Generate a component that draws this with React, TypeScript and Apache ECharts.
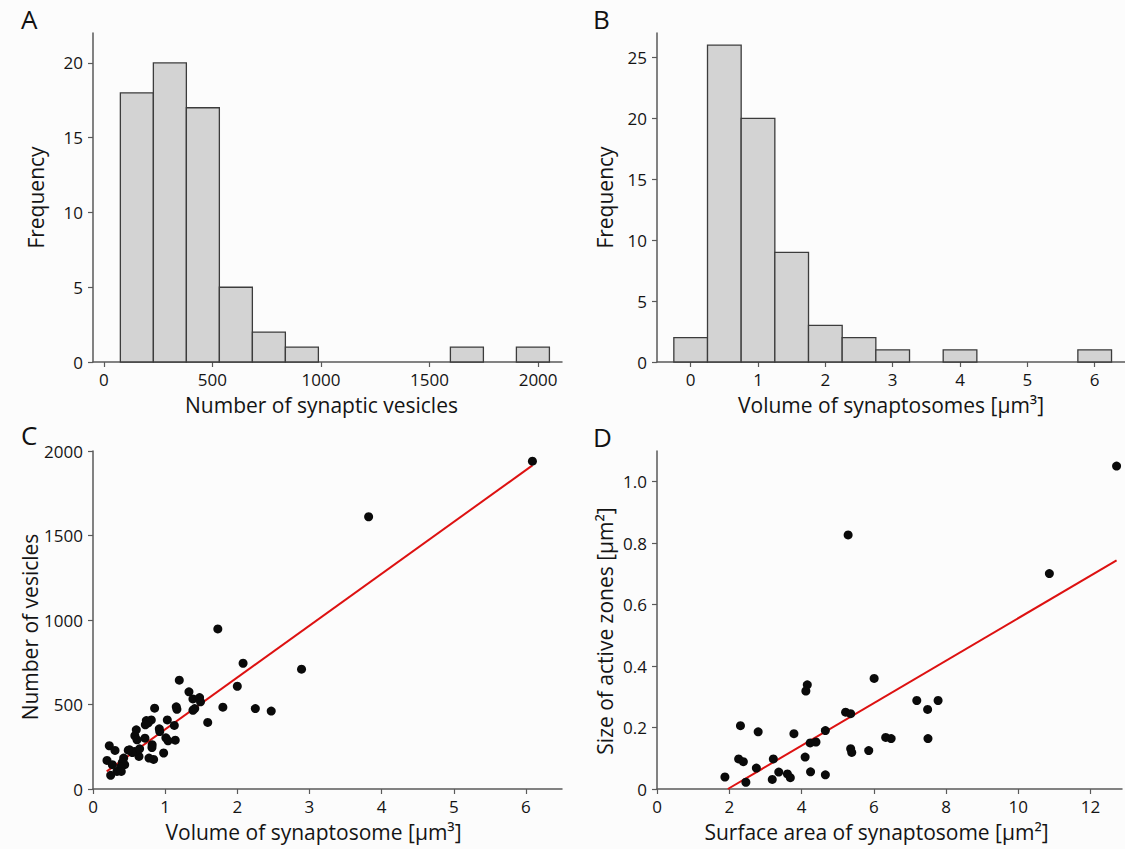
import React, { useEffect, useRef } from 'react';
import * as echarts from 'echarts';

// Panel A: histogram of number of synaptic vesicles
const vesicleBinStarts = [76, 228, 380, 532, 684, 836, 1596, 1900];
const vesicleBinWidth = 152;
const vesicleCounts = [18, 20, 17, 5, 2, 1, 1, 1];
const vesicleTicks = [0, 500, 1000, 1500, 2000];

// Panel B: histogram of synaptosome volume
const volumeBinStarts = [-0.25, 0.25, 0.75, 1.25, 1.75, 2.25, 2.75, 3.75, 5.75];
const volumeBinWidth = 0.5;
const volumeCounts = [2, 26, 20, 9, 3, 2, 1, 1, 1];
const volumeTicks = [0, 1, 2, 3, 4, 5, 6];

// Panel C: volume of synaptosome vs number of vesicles
const volC = [
  1.73, 2.08, 2.0, 2.25, 2.47, 2.89, 1.8, 1.59, 1.196, 1.33, 1.385, 1.477, 1.49, 1.385, 1.41,
  1.154, 1.163, 1.127, 1.03, 1.01, 1.14, 1.04, 0.919, 0.925, 0.979, 0.854, 0.808, 0.739, 0.766,
  0.725, 0.6, 0.58, 0.61, 0.72, 0.82, 0.817, 0.84, 0.776, 0.637, 0.577, 0.508, 0.545, 0.646,
  0.489, 0.425, 0.406, 0.439, 0.383, 0.332, 0.392, 0.245, 0.226, 0.305, 0.194, 0.268, 3.82, 6.09,
];
const vesC = [
  947, 744, 608, 476, 461, 709, 484, 394, 644, 575, 533, 541, 516, 466, 476,
  486, 472, 376, 409, 303, 289, 285, 356, 340, 213, 478, 409, 405, 392,
  380, 350, 315, 291, 301, 262, 245, 175, 183, 193, 222, 232, 216, 238,
  230, 183, 157, 144, 130, 104, 104, 81, 256, 228, 169, 144, 1611, 1940,
];
const fitCx = [0.19, 6.09];
const fitCy = [104, 1915];

// Panel D: surface area vs size of active zones
const areaD = [
  5.29, 6.01, 4.16, 4.12, 5.22, 5.36, 2.31, 2.8, 3.79, 4.66, 4.24, 4.4, 5.36, 5.39, 5.86, 6.33,
  6.48, 2.26, 2.39, 3.22, 4.1, 2.75, 3.37, 3.61, 3.69, 3.19, 4.25, 4.66, 1.88, 2.46, 12.72, 10.86,
  7.19, 7.78, 7.49, 7.5,
];
const azD = [
  0.827, 0.36, 0.339, 0.319, 0.25, 0.245, 0.206, 0.186, 0.18, 0.19, 0.15, 0.153, 0.131, 0.119,
  0.125, 0.168, 0.164, 0.098, 0.089, 0.098, 0.104, 0.068, 0.055, 0.049, 0.037, 0.031, 0.056,
  0.046, 0.039, 0.022, 1.051, 0.701, 0.288, 0.288, 0.259, 0.164,
];
const fitDx = [1.96, 12.72];
const fitDy = [0, 0.744];

const FONT = 'Open Sans';
const TEXT = '#141414';
const AXIS = '#5a5a5a';
const plain = (v: number) => String(v);

function labelStyle(extra: any) {
  return { fontSize: 17, color: TEXT, fontFamily: FONT, margin: 9, formatter: plain, ...extra };
}

function axisBase(extra: any) {
  return {
    axisLine: { show: true, onZero: false, lineStyle: { color: AXIS, width: 1.5 } },
    axisTick: { show: true, length: 5, lineStyle: { color: AXIS, width: 1.2 } },
    splitLine: { show: false },
    nameLocation: 'middle',
    ...extra,
    nameTextStyle: { fontSize: 21, color: TEXT, fontFamily: FONT, ...(extra.nameTextStyle || {}) },
  };
}

function histRender(params: any, api: any) {
  const x0 = api.value(0);
  const x1 = api.value(1);
  const c = api.value(2);
  const p0 = api.coord([x0, c]);
  const p1 = api.coord([x1, 0]);
  return {
    type: 'rect',
    shape: { x: p0[0], y: p0[1], width: p1[0] - p0[0], height: p1[1] - p0[1] },
    style: { fill: '#d3d3d3', stroke: '#3c3c3c', lineWidth: 1.3 },
  };
}

export default function App() {
  const ref = useRef<HTMLDivElement>(null);

  useEffect(() => {
    if (!ref.current) return;
    const chart = echarts.init(ref.current, undefined, { renderer: 'svg' });

    const histA = vesicleBinStarts.map((s, i) => [s, s + vesicleBinWidth, vesicleCounts[i]]);
    const histB = volumeBinStarts.map((s, i) => [s, s + volumeBinWidth, volumeCounts[i]]);
    const scatC = volC.map((v, i) => [v, vesC[i]]);
    const scatD = areaD.map((v, i) => [v, azD[i]]);
    const lineC = fitCx.map((v, i) => [v, fitCy[i]]);
    const lineD = fitDx.map((v, i) => [v, fitDy[i]]);

    const tickStyle = { show: true, length: 5, lineStyle: { color: AXIS, width: 1.2 } };
    const letter = (t: string, x: number, y: number) => ({
      type: 'text', x, y,
      style: { text: t, fontSize: 26, fontFamily: FONT, fill: '#111', textVerticalAlign: 'top' },
    });

    const option: any = {
      animation: false,
      backgroundColor: '#fcfcfc',
      textStyle: { fontFamily: FONT, color: TEXT },
      graphic: [letter('A', 21, 6), letter('B', 593, 6), letter('C', 21, 422), letter('D', 593, 424)],
      grid: [
        { left: 93, top: 33, width: 469, height: 329 },
        { left: 657, top: 33, width: 471, height: 329 },
        { left: 93, top: 451, width: 469, height: 338 },
        { left: 657, top: 451, width: 465, height: 338 },
      ],
      xAxis: [
        axisBase({
          gridIndex: 0, type: 'value', min: -50, max: 2110,
          name: 'Number of synaptic vesicles', nameGap: 32,
          nameTextStyle: { padding: [0, 12, 0, 0] },
          axisTick: { ...tickStyle, customValues: vesicleTicks },
          axisLabel: labelStyle({ customValues: vesicleTicks }),
        }),
        axisBase({
          gridIndex: 1, type: 'value', min: -0.5, max: 6.45,
          name: 'Volume of synaptosomes [µm³]', nameGap: 32,
          axisTick: { ...tickStyle, customValues: volumeTicks },
          axisLabel: labelStyle({ customValues: volumeTicks }),
        }),
        axisBase({
          gridIndex: 2, type: 'value', min: 0, max: 6.5, interval: 1,
          name: 'Volume of synaptosome [µm³]', nameGap: 32,
          nameTextStyle: { padding: [0, 28, 0, 0] },
          axisTick: tickStyle,
          axisLabel: labelStyle({ showMaxLabel: false }),
        }),
        axisBase({
          gridIndex: 3, type: 'value', min: 0, max: 12.87, interval: 2,
          name: 'Surface area of synaptosome [µm²]', nameGap: 32,
          nameTextStyle: { padding: [0, 26, 0, 0] },
          axisTick: tickStyle,
          axisLabel: labelStyle({ showMaxLabel: false }),
        }),
      ],
      yAxis: [
        axisBase({
          gridIndex: 0, type: 'value', min: 0, max: 22, interval: 5,
          name: 'Frequency', nameGap: 47,
          axisTick: tickStyle,
          axisLabel: labelStyle({ margin: 10, showMaxLabel: false }),
        }),
        axisBase({
          gridIndex: 1, type: 'value', min: 0, max: 27, interval: 5,
          name: 'Frequency', nameGap: 42,
          axisTick: tickStyle,
          axisLabel: labelStyle({ margin: 10, showMaxLabel: false }),
        }),
        axisBase({
          gridIndex: 2, type: 'value', min: 0, max: 2000, interval: 500,
          name: 'Number of vesicles', nameGap: 53,
          nameTextStyle: { padding: [0, 14, 0, 0] },
          axisTick: tickStyle,
          axisLabel: labelStyle({ margin: 10 }),
        }),
        axisBase({
          gridIndex: 3, type: 'value', min: 0, max: 1.1, interval: 0.2,
          name: 'Size of active zones [µm²]', nameGap: 42,
          nameTextStyle: { padding: [0, 22, 0, 0] },
          axisTick: tickStyle,
          axisLabel: labelStyle({
            margin: 10, showMaxLabel: false,
            formatter: (v: number) => (v === 0 ? '0' : v.toFixed(1)),
          }),
        }),
      ],
      series: [
        { type: 'custom', xAxisIndex: 0, yAxisIndex: 0, renderItem: histRender, encode: { x: [0, 1], y: 2 }, data: histA },
        { type: 'custom', xAxisIndex: 1, yAxisIndex: 1, renderItem: histRender, encode: { x: [0, 1], y: 2 }, data: histB },
        {
          type: 'line', xAxisIndex: 2, yAxisIndex: 2, data: lineC, showSymbol: false, symbol: 'none',
          lineStyle: { color: '#dd1111', width: 2 }, z: 3,
        },
        {
          type: 'scatter', xAxisIndex: 2, yAxisIndex: 2, data: scatC, symbolSize: 9,
          itemStyle: { color: '#0a0a0a', opacity: 1 }, z: 4,
        },
        {
          type: 'line', xAxisIndex: 3, yAxisIndex: 3, data: lineD, showSymbol: false, symbol: 'none',
          lineStyle: { color: '#dd1111', width: 2 }, z: 3,
        },
        {
          type: 'scatter', xAxisIndex: 3, yAxisIndex: 3, data: scatD, symbolSize: 9,
          itemStyle: { color: '#0a0a0a', opacity: 1 }, z: 4,
        },
      ],
    };

    chart.setOption(option);
    return () => chart.dispose();
  }, []);

  return (
    <div
      ref={ref}
      style={{ position: 'fixed', left: 0, top: 0, width: 1125, height: 849 }}
    />
  );
}
